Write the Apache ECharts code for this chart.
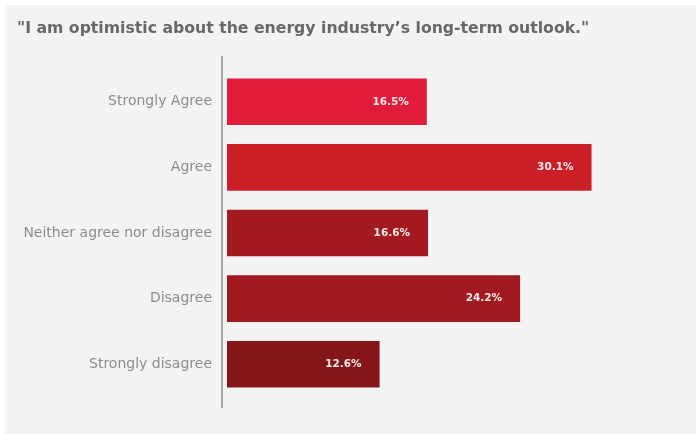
<!DOCTYPE html>
<html>
<head>
<meta charset="utf-8">
<script src="https://cdn.jsdelivr.net/npm/echarts@6/dist/echarts.min.js"></script>
<style>
  html, body { margin: 0; padding: 0; background: #ffffff; }
  #chart { width: 696px; height: 434px; }
</style>
</head>
<body>
<div id="chart"></div>
<script>
// Survey responses, top to bottom
const categories = ['Strongly Agree', 'Agree', 'Neither agree nor disagree', 'Disagree', 'Strongly disagree'];
const shares = [16.5, 30.1, 16.6, 24.2, 12.6];
const barColors = ['#e11b3a', '#ca1f27', '#a31b21', '#a01a20', '#84161a'];
const titleText = '"I am optimistic about the energy industry\u2019s long-term outlook."';

const chart = echarts.init(document.getElementById('chart'));

chart.setOption({
  backgroundColor: '#ffffff',
  animation: false,
  graphic: [
    {
      type: 'rect',
      shape: { x: 5, y: 5, width: 691, height: 429 },
      style: { fill: '#f3f3f4' },
      z: -10
    },
    {
      type: 'line',
      shape: { x1: 222, y1: 56, x2: 222, y2: 408 },
      style: { stroke: '#a3a7ad', lineWidth: 2 },
      z: 10
    }
  ],
  title: {
    text: titleText,
    left: 12,
    top: 16,
    textStyle: {
      fontFamily: 'DejaVu Sans',
      fontWeight: 'bold',
      fontSize: 15.7,
      color: '#686868'
    }
  },
  grid: {
    left: 227,
    right: 33,
    top: 69,
    height: 328
  },
  xAxis: {
    type: 'value',
    min: 0,
    max: 36,
    show: false
  },
  yAxis: {
    type: 'category',
    data: categories,
    inverse: true,
    axisLine: { show: false },
    axisTick: { show: false },
    axisLabel: {
      margin: 15,
      fontFamily: 'DejaVu Sans',
      fontSize: 14,
      color: '#8c8c8c'
    }
  },
  series: [{
    type: 'bar',
    barCategoryGap: '29%',
    data: shares.map((v, i) => ({ value: v, itemStyle: { color: barColors[i] } })),
    label: {
      show: true,
      position: 'insideRight',
      distance: 18,
      formatter: p => p.value.toFixed(1) + '%',
      fontFamily: 'DejaVu Sans',
      fontWeight: 'bold',
      fontSize: 10.5,
      color: '#fbe9ea'
    }
  }]
});
</script>
</body>
</html>
